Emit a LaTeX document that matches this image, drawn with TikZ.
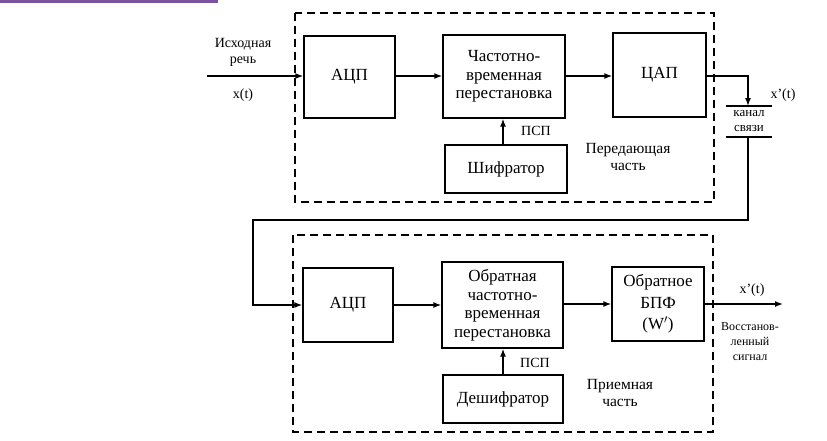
\documentclass[tikz,border=0pt]{standalone}
\usepackage{fontspec}
\setmainfont{Liberation Serif}
\usetikzlibrary{arrows.meta}
\tikzset{
  blk/.style={draw, line width=0.5mm, align=center, inner sep=1pt, font=\fontsize{17}{18.5}\selectfont},
  part/.style={draw, line width=0.4mm, dash pattern=on 8pt off 5pt},
  arr/.style={line width=0.5mm, -{Latex[length=8pt,width=6pt]}},
  wire/.style={line width=0.5mm},
  lbl/.style={align=center, inner sep=0pt, font=\fontsize{14}{16}\selectfont},
  side/.style={align=center, inner sep=0pt, font=\fontsize{15.5}{17}\selectfont}
}
\begin{document}
\begin{tikzpicture}[x=1pt,y=-1pt]
			%%%%% START %%%%%
			\useasboundingbox (0,0) rectangle (827,440);
			\fill[color={rgb,255:red,122;green,82;blue,160}] (0,0) rectangle (218,2.5);
			
			% transmitting part
			\draw[part] (295,13) rectangle (714,202);
			\node[blk, minimum width=91, minimum height=82] (adc1) at (349.5,77) {АЦП};
			\node[blk, minimum width=122, minimum height=83] (perm1) at (504,76.5) {Частотно-\\временная\\перестановка};
			\node[blk, minimum width=93, minimum height=84] (dac) at (659.5,75) {ЦАП};
			\node[blk, minimum width=122, minimum height=48] (coder) at (506,169) {Шифратор};
			
			\coordinate (in) at (207,76);
			\draw[arr] (in) -- (adc1.west |- in);
			\node[lbl] (src) at (243,52) {Исходная\\речь};
			\node[lbl] (xt) at (243,95) {x(t)};
			\draw[arr] (adc1.east |- in) -- (perm1.west |- in);
			\draw[arr] (perm1.east |- in) -- (dac.west |- in);
			\draw[arr] (coder.north -| 503,0) -- (perm1.south -| 503,0);
			\node[lbl] (psp1) at (536,131) {ПСП};
			\node[side] (tx) at (628,157) {Передающая\\часть};
			
			% channel
			\coordinate (chtop) at (748,106);
			\coordinate (chbot) at (748,137);
			\draw[wire] (726,106) -- (772,106);
			\draw[wire] (726,137) -- (772,137);
			\node[lbl, font=\fontsize{13}{15}\selectfont] (chan) at (749,121.5) {канал\\связи};
			\node[lbl] (xp1) at (783,95) {x'(t)};
			\draw[arr] (dac.east |- in) -| (chtop);
			\coordinate (turn) at (253,220);
			
			% receiving part
			\draw[part] (293,235) rectangle (713,432);
			\node[blk, minimum width=90, minimum height=74] (adc2) at (348,305) {АЦП};
			\node[blk, minimum width=121, minimum height=86] (perm2) at (502.5,305) {Обратная\\частотно-\\временная\\перестановка};
			\node[blk, minimum width=92, minimum height=74, font=\fontsize{17}{21.5}\selectfont] (ifft) at (658,304) {Обратное\\БПФ\\(W$'$)};
			\node[blk, minimum width=120, minimum height=48] (decoder) at (503,399) {Дешифратор};
			
			\draw[arr] (chbot) |- (turn) |- (adc2.west);
			\draw[arr] (adc2.east) -- (perm2.west |- adc2.east);
			\draw[arr] (perm2.east |- ifft.west) -- (ifft.west);
			\draw[arr] (decoder.north -| 503,0) -- (perm2.south -| 503,0);
			\node[lbl] (psp2) at (535,363) {ПСП};
			\node[side] (rx) at (620,393) {Приемная\\часть};
			
			\coordinate (out) at (783,304);
			\draw[arr] (ifft.east) -- (out);
			\node[lbl] (xp2) at (752,290) {x'(t)};
			\node[lbl, font=\fontsize{12}{15}\selectfont] (rec) at (750,342) {Восстанов-\\ленный\\сигнал};
			%%%%% END %%%%%
\end{tikzpicture}
\end{document}
